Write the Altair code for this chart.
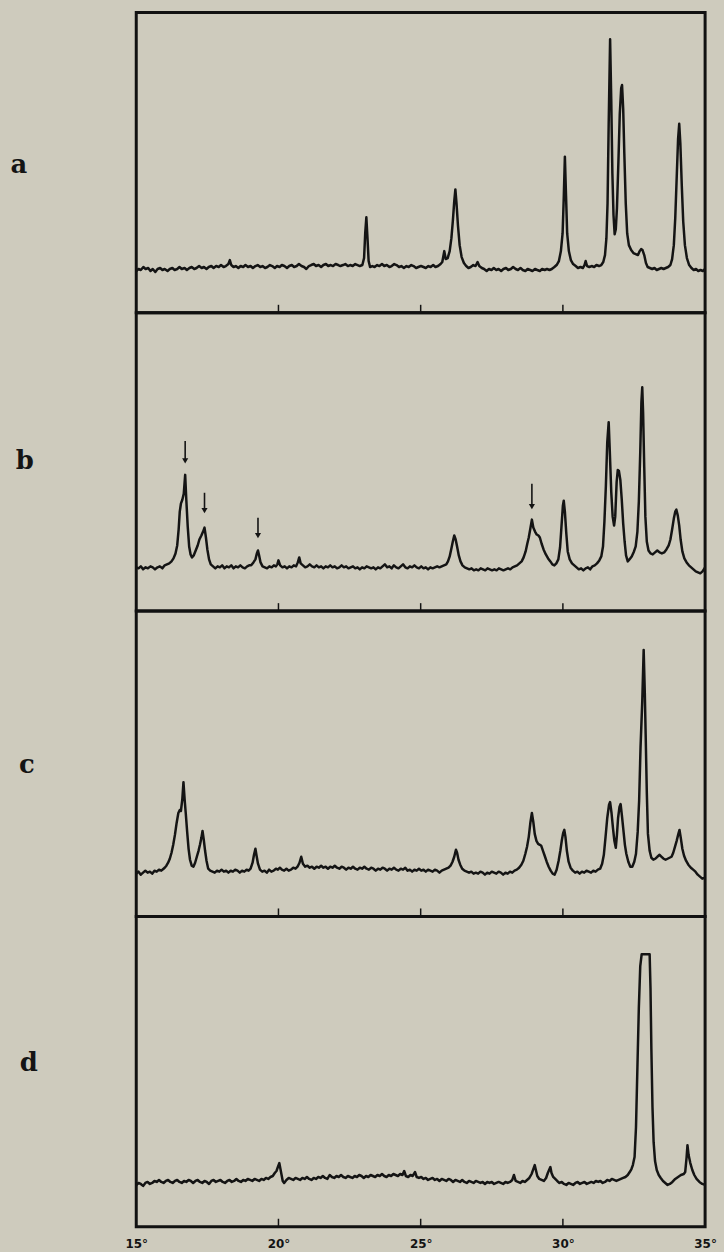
import altair as alt
import pandas as pd

# X-ray powder patterns, 2θ (degrees) vs. intensity (arbitrary units), four samples
PATTERN_A = [
    (15.00,42),(15.08,44),(15.16,43),(15.25,46),(15.33,44),(15.42,45),(15.50,42),(15.58,44),(15.67,41),(15.75,44),
    (15.84,45),(15.92,43),(16.00,44),(16.10,42),(16.18,44),(16.27,45),(16.35,43),(16.44,44),(16.52,46),(16.60,44),
    (16.70,45),(16.78,43),(16.87,45),(16.95,46),(17.04,44),(17.12,45),(17.21,47),(17.30,45),(17.38,46),(17.47,44),
    (17.55,46),(17.64,47),(17.72,45),(17.81,47),(17.90,46),(17.98,48),(18.07,46),(18.15,47),(18.24,49),(18.29,53),
    (18.34,48),(18.42,46),(18.50,47),(18.59,45),(18.67,47),(18.76,46),(18.84,48),(18.93,46),(19.02,47),(19.10,45),
    (19.19,47),(19.27,48),(19.36,46),(19.44,47),(19.53,45),(19.61,46),(19.70,48),(19.78,47),(19.87,45),(19.95,47),
    (20.04,46),(20.12,48),(20.21,47),(20.30,45),(20.38,47),(20.47,48),(20.55,46),(20.64,47),(20.72,49),(20.81,47),
    (20.90,46),(20.98,44),(21.07,47),(21.15,48),(21.24,49),(21.32,47),(21.41,48),(21.50,46),(21.58,48),(21.67,49),
    (21.75,47),(21.84,48),(21.92,47),(22.01,49),(22.10,48),(22.18,47),(22.27,48),(22.35,49),(22.44,47),(22.52,48),
    (22.61,47),(22.70,49),(22.78,48),(22.86,47),(22.95,48),(23.01,55),(23.05,80),(23.09,96),(23.13,75),(23.17,52),
    (23.22,46),(23.30,47),(23.38,46),(23.47,48),(23.55,47),(23.64,49),(23.72,47),(23.81,48),(23.90,46),(23.98,47),
    (24.07,49),(24.15,48),(24.24,46),(24.32,47),(24.41,45),(24.50,47),(24.58,46),(24.67,48),(24.75,47),(24.84,45),
    (24.92,46),(25.01,47),(25.10,46),(25.18,45),(25.27,47),(25.35,46),(25.44,48),(25.52,46),(25.61,47),(25.70,49),
    (25.76,51),(25.83,62),(25.88,54),(25.95,55),(26.02,62),(26.08,75),(26.13,92),(26.18,112),(26.22,124),(26.26,110),
    (26.31,88),(26.37,68),(26.44,56),(26.52,50),(26.60,47),(26.68,45),(26.76,46),(26.85,48),(26.93,47),(27.00,51),
    (27.06,47),(27.15,45),(27.23,44),(27.32,42),(27.40,44),(27.49,43),(27.57,45),(27.66,43),(27.74,44),(27.83,42),
    (27.91,44),(28.00,45),(28.08,43),(28.17,44),(28.25,46),(28.34,44),(28.42,43),(28.51,45),(28.59,43),(28.68,42),
    (28.76,44),(28.85,43),(28.93,42),(29.02,44),(29.10,43),(29.19,42),(29.27,44),(29.36,43),(29.44,44),(29.53,43),
    (29.61,44),(29.70,46),(29.78,48),(29.86,52),(29.93,62),(29.99,80),(30.03,115),(30.07,157),(30.11,118),(30.15,80),
    (30.21,62),(30.28,53),(30.36,49),(30.45,47),(30.53,45),(30.62,46),(30.70,45),(30.76,48),(30.80,52),(30.85,47),
    (30.93,46),(31.01,47),(31.10,46),(31.18,48),(31.27,47),(31.35,48),(31.42,51),(31.48,58),(31.53,75),(31.57,110),
    (31.61,190),(31.66,275),(31.70,215),(31.74,140),(31.78,98),(31.82,79),(31.86,84),(31.90,105),(31.95,150),(32.00,200),
    (32.05,226),(32.08,229),(32.12,205),(32.16,160),(32.21,110),(32.26,80),(32.32,68),(32.40,63),(32.48,60),(32.56,59),
    (32.64,58),(32.70,62),(32.75,64),(32.80,63),(32.86,58),(32.92,50),(32.98,46),(33.06,45),(33.14,44),(33.22,45),
    (33.30,43),(33.38,44),(33.46,45),(33.54,44),(33.62,45),(33.70,46),(33.78,48),(33.84,54),(33.90,68),(33.95,95),
    (34.00,135),(34.05,175),(34.09,190),(34.13,170),(34.18,128),(34.23,92),(34.29,68),(34.36,55),(34.44,48),(34.52,45),
    (34.60,43),(34.68,44),(34.76,42),(34.84,43),(34.92,42),(35.00,44),
]

PATTERN_B = [
    (15.00,44),(15.08,43),(15.16,45),(15.24,42),(15.33,44),(15.41,43),(15.50,45),(15.58,44),(15.66,42),(15.75,44),
    (15.83,45),(15.92,43),(16.00,46),(16.08,47),(16.16,48),(16.24,50),(16.31,53),(16.38,58),(16.44,66),(16.49,82),
    (16.53,100),(16.57,108),(16.62,112),(16.67,118),(16.72,137),(16.76,112),(16.81,85),(16.86,65),(16.91,57),(16.96,54),
    (17.02,56),(17.09,61),(17.16,66),(17.22,72),(17.29,76),(17.35,80),(17.40,84),(17.45,74),(17.50,62),(17.56,52),
    (17.62,47),(17.70,45),(17.78,43),(17.86,45),(17.94,44),(18.02,46),(18.10,43),(18.18,45),(18.26,44),(18.34,46),
    (18.42,43),(18.50,45),(18.58,44),(18.66,46),(18.74,44),(18.82,43),(18.90,45),(18.97,46),(19.04,46),(19.12,49),
    (19.19,52),(19.24,58),(19.28,61),(19.32,56),(19.37,49),(19.44,45),(19.52,44),(19.60,43),(19.68,45),(19.76,44),
    (19.84,46),(19.91,45),(19.96,47),(20.00,51),(20.06,46),(20.14,44),(20.22,45),(20.30,43),(20.38,45),(20.46,44),
    (20.54,46),(20.62,45),(20.68,49),(20.73,54),(20.78,48),(20.86,46),(20.94,44),(21.02,45),(21.10,47),(21.18,45),
    (21.26,44),(21.34,46),(21.42,44),(21.50,45),(21.58,43),(21.66,45),(21.74,44),(21.82,46),(21.90,44),(21.98,45),
    (22.06,43),(22.14,44),(22.22,46),(22.30,44),(22.38,45),(22.46,43),(22.54,44),(22.62,45),(22.70,43),(22.78,44),
    (22.86,42),(22.94,44),(23.02,43),(23.10,45),(23.18,44),(23.26,43),(23.34,44),(23.42,42),(23.50,44),(23.58,43),
    (23.66,45),(23.74,47),(23.82,44),(23.90,45),(23.98,43),(24.06,46),(24.14,44),(24.22,43),(24.30,45),(24.38,47),
    (24.46,44),(24.54,43),(24.62,45),(24.70,44),(24.78,46),(24.86,44),(24.94,43),(25.02,45),(25.10,43),(25.18,44),
    (25.26,42),(25.34,44),(25.42,43),(25.50,44),(25.58,45),(25.66,44),(25.74,45),(25.82,46),(25.90,47),(25.96,50),
    (26.02,55),(26.08,63),(26.13,70),(26.18,76),(26.23,72),(26.28,65),(26.34,56),(26.40,50),(26.47,46),(26.55,44),
    (26.63,43),(26.71,42),(26.79,43),(26.87,41),(26.95,42),(27.03,41),(27.11,43),(27.19,42),(27.27,41),(27.35,43),
    (27.43,42),(27.51,41),(27.59,42),(27.67,41),(27.75,43),(27.83,42),(27.91,41),(27.99,42),(28.07,43),(28.15,42),
    (28.23,44),(28.31,45),(28.39,46),(28.47,48),(28.55,50),(28.62,54),(28.69,60),(28.75,68),(28.80,74),(28.85,82),
    (28.91,92),(28.96,84),(29.02,80),(29.08,77),(29.14,76),(29.19,74),(29.25,68),(29.32,62),(29.40,57),(29.48,53),
    (29.56,50),(29.63,47),(29.70,46),(29.77,48),(29.84,52),(29.90,64),(29.95,85),(30.00,106),(30.03,111),(30.07,100),
    (30.12,78),(30.17,60),(30.24,52),(30.32,48),(30.40,46),(30.48,44),(30.56,42),(30.64,43),(30.72,41),(30.80,43),
    (30.88,44),(30.96,42),(31.04,45),(31.12,46),(31.20,48),(31.28,51),(31.35,55),(31.41,65),(31.46,90),(31.51,125),
    (31.56,170),(31.61,190),(31.65,160),(31.70,120),(31.75,95),(31.80,86),(31.84,95),(31.89,130),(31.93,142),(31.97,141),
    (32.02,132),(32.07,112),(32.12,88),(32.17,70),(32.22,56),(32.28,50),(32.34,52),(32.42,55),(32.50,60),(32.56,65),
    (32.62,80),(32.67,110),(32.72,160),(32.76,210),(32.79,225),(32.82,200),(32.86,145),(32.90,95),(32.95,70),(33.01,61),
    (33.08,58),(33.16,57),(33.24,59),(33.32,61),(33.40,59),(33.48,58),(33.56,59),(33.64,62),(33.72,66),(33.78,72),
    (33.84,82),(33.90,93),(33.95,100),(33.99,102),(34.04,96),(34.09,86),(34.14,72),(34.20,60),(34.27,53),(34.35,49),
    (34.43,46),(34.51,44),(34.59,42),(34.67,40),(34.75,39),(34.83,38),(34.91,40),(35.00,44),
]

PATTERN_C = [
    (15.00,43),(15.08,45),(15.16,42),(15.24,44),(15.32,46),(15.40,44),(15.48,45),(15.56,43),(15.64,46),(15.72,45),
    (15.80,47),(15.88,46),(15.96,48),(16.00,49),(16.06,51),(16.12,54),(16.18,58),(16.24,64),(16.30,72),(16.36,82),
    (16.42,94),(16.48,104),(16.53,107),(16.57,106),(16.62,118),(16.66,135),(16.70,118),(16.74,104),(16.79,85),(16.84,68),
    (16.89,57),(16.95,51),(17.01,50),(17.07,54),(17.13,60),(17.19,66),(17.24,72),(17.29,79),(17.33,86),(17.37,78),
    (17.42,66),(17.47,56),(17.53,48),(17.60,46),(17.68,45),(17.76,44),(17.84,46),(17.92,45),(18.00,47),(18.08,45),
    (18.16,46),(18.24,44),(18.32,46),(18.40,45),(18.48,47),(18.56,46),(18.64,44),(18.72,46),(18.80,45),(18.88,47),
    (18.95,46),(19.02,48),(19.09,54),(19.14,62),(19.19,68),(19.23,61),(19.28,53),(19.35,47),(19.43,45),(19.51,46),
    (19.59,44),(19.67,47),(19.75,45),(19.83,46),(19.91,48),(19.98,47),(20.05,49),(20.12,47),(20.20,46),(20.28,48),
    (20.36,46),(20.44,47),(20.52,49),(20.60,48),(20.67,50),(20.74,54),(20.80,60),(20.86,53),(20.94,50),(21.02,51),
    (21.10,49),(21.18,50),(21.26,48),(21.34,50),(21.42,49),(21.50,51),(21.58,49),(21.66,50),(21.74,48),(21.82,50),
    (21.90,49),(21.98,51),(22.06,49),(22.14,48),(22.22,50),(22.30,49),(22.38,47),(22.46,49),(22.54,48),(22.62,50),
    (22.70,48),(22.78,47),(22.86,49),(22.94,48),(23.02,50),(23.10,48),(23.18,47),(23.26,49),(23.34,48),(23.42,46),
    (23.50,48),(23.58,47),(23.66,49),(23.74,48),(23.82,46),(23.90,48),(23.98,47),(24.06,49),(24.14,47),(24.22,46),
    (24.30,48),(24.38,47),(24.46,49),(24.54,46),(24.62,47),(24.70,45),(24.78,47),(24.86,46),(24.94,48),(25.02,46),
    (25.10,47),(25.18,45),(25.26,47),(25.34,46),(25.42,45),(25.50,47),(25.58,46),(25.66,44),(25.74,46),(25.82,47),
    (25.90,48),(25.98,49),(26.05,51),(26.12,55),(26.18,60),(26.24,67),(26.28,64),(26.33,57),(26.39,52),(26.46,48),
    (26.54,46),(26.62,45),(26.70,44),(26.78,45),(26.86,43),(26.94,44),(27.02,43),(27.10,45),(27.18,44),(27.26,42),
    (27.34,44),(27.42,43),(27.50,45),(27.58,44),(27.66,43),(27.74,45),(27.82,44),(27.90,42),(27.98,44),(28.06,43),
    (28.14,45),(28.22,44),(28.30,46),(28.38,47),(28.46,49),(28.54,52),(28.61,56),(28.68,63),(28.74,70),(28.80,80),
    (28.86,95),(28.91,104),(28.96,95),(29.01,83),(29.07,76),(29.13,73),(29.19,72),(29.24,71),(29.30,66),(29.36,61),
    (29.43,55),(29.50,50),(29.57,46),(29.64,43),(29.71,42),(29.78,47),(29.85,56),(29.91,66),(29.96,76),(30.01,84),
    (30.05,87),(30.09,80),(30.14,66),(30.20,55),(30.27,49),(30.35,46),(30.43,44),(30.51,45),(30.59,43),(30.67,45),
    (30.75,44),(30.83,46),(30.91,45),(30.99,44),(31.07,46),(31.15,45),(31.23,47),(31.31,48),(31.38,53),(31.44,62),
    (31.50,80),(31.56,99),(31.62,112),(31.66,115),(31.71,104),(31.76,89),(31.81,76),(31.86,69),(31.90,82),(31.94,99),
    (31.99,110),(32.03,113),(32.08,100),(32.13,86),(32.18,72),(32.23,63),(32.30,55),(32.37,50),(32.44,50),(32.51,55),
    (32.57,63),(32.63,85),(32.68,116),(32.73,170),(32.79,216),(32.84,268),(32.88,225),(32.91,183),(32.95,125),(32.99,83),
    (33.05,66),(33.11,59),(33.18,57),(33.25,58),(33.32,60),(33.40,62),(33.47,60),(33.54,58),(33.61,57),(33.68,58),
    (33.75,59),(33.82,60),(33.88,64),(33.94,70),(34.00,76),(34.06,83),(34.10,87),(34.15,78),(34.20,68),(34.26,61),
    (34.33,56),(34.41,52),(34.50,49),(34.58,47),(34.66,45),(34.74,42),(34.82,40),(34.90,38),(35.00,39),
]

PATTERN_D = [
    (15.00,42),(15.08,44),(15.16,43),(15.24,41),(15.32,44),(15.40,45),(15.48,43),(15.56,44),(15.64,46),(15.72,45),
    (15.80,47),(15.88,45),(15.96,44),(16.04,46),(16.12,47),(16.20,45),(16.28,44),(16.36,46),(16.44,47),(16.52,45),
    (16.60,44),(16.68,46),(16.76,45),(16.84,47),(16.92,46),(17.00,44),(17.08,46),(17.16,47),(17.24,45),(17.32,44),
    (17.40,46),(17.48,45),(17.56,43),(17.64,46),(17.72,47),(17.80,45),(17.88,46),(17.96,47),(18.04,45),(18.12,44),
    (18.20,46),(18.28,47),(18.36,45),(18.44,46),(18.52,48),(18.60,46),(18.68,45),(18.76,47),(18.84,46),(18.92,48),
    (19.00,47),(19.08,46),(19.16,48),(19.24,47),(19.32,46),(19.40,48),(19.48,47),(19.56,49),(19.64,48),(19.72,50),
    (19.80,51),(19.87,54),(19.93,56),(19.98,60),(20.03,64),(20.07,58),(20.11,52),(20.15,46),(20.20,44),(20.28,47),
    (20.36,49),(20.44,48),(20.52,47),(20.60,49),(20.68,48),(20.76,47),(20.84,49),(20.92,48),(21.00,50),(21.08,48),
    (21.16,47),(21.24,49),(21.32,48),(21.40,50),(21.48,49),(21.56,51),(21.64,49),(21.72,48),(21.80,52),(21.88,50),
    (21.96,49),(22.04,51),(22.12,50),(22.20,52),(22.28,50),(22.36,49),(22.44,51),(22.52,50),(22.60,49),(22.68,51),
    (22.76,50),(22.84,52),(22.92,51),(23.00,49),(23.08,51),(23.16,50),(23.24,52),(23.32,51),(23.40,50),(23.48,52),
    (23.56,51),(23.64,53),(23.72,51),(23.80,50),(23.88,52),(23.96,51),(24.04,53),(24.12,52),(24.20,51),(24.28,53),
    (24.36,52),(24.42,56),(24.48,51),(24.56,50),(24.64,52),(24.72,51),(24.80,55),(24.86,50),(24.94,49),(25.02,50),
    (25.10,48),(25.18,49),(25.26,47),(25.34,48),(25.42,49),(25.50,47),(25.58,48),(25.66,46),(25.74,48),(25.82,47),
    (25.90,46),(25.98,48),(26.06,47),(26.14,45),(26.22,47),(26.30,46),(26.38,45),(26.46,47),(26.54,45),(26.62,44),
    (26.70,46),(26.78,45),(26.86,44),(26.94,46),(27.02,45),(27.10,44),(27.18,45),(27.26,43),(27.34,45),(27.42,44),
    (27.50,45),(27.58,43),(27.66,44),(27.74,45),(27.82,44),(27.90,43),(27.98,45),(28.06,44),(28.14,45),(28.22,47),
    (28.28,52),(28.34,46),(28.42,45),(28.50,44),(28.58,46),(28.66,45),(28.74,47),(28.82,49),(28.90,53),(28.96,58),
    (29.01,62),(29.05,57),(29.10,51),(29.17,48),(29.25,47),(29.33,46),(29.41,49),(29.47,54),(29.53,58),(29.56,60),
    (29.60,54),(29.66,50),(29.73,48),(29.80,46),(29.88,44),(29.96,45),(30.04,43),(30.12,42),(30.20,44),(30.28,43),
    (30.36,42),(30.44,44),(30.52,45),(30.60,43),(30.68,44),(30.76,45),(30.84,43),(30.92,44),(31.00,45),(31.08,44),
    (31.16,46),(31.24,45),(31.32,46),(31.40,44),(31.48,45),(31.56,47),(31.64,46),(31.72,48),(31.80,47),(31.88,46),
    (31.96,47),(32.04,48),(32.12,49),(32.20,50),(32.28,52),(32.35,55),(32.41,58),(32.46,62),(32.52,70),(32.57,100),
    (32.62,160),(32.67,220),(32.72,262),(32.77,274),(32.85,274),(32.95,274),(33.05,274),(33.08,240),(33.11,180),(33.15,120),
    (33.19,85),(33.24,66),(33.30,57),(33.37,52),(33.44,49),(33.52,46),(33.60,44),(33.68,42),(33.76,43),(33.85,45),
    (33.95,48),(34.05,50),(34.15,52),(34.25,53),(34.30,55),(34.35,70),(34.38,82),(34.42,72),(34.48,64),(34.55,57),
    (34.62,52),(34.70,48),(34.80,45),(34.90,43),(35.00,42),
]

# Arrows marking the extra reflections in pattern b: position, arrow top, arrow tip
ARROW_X = [16.72, 17.40, 19.28, 28.91]
ARROW_TOP = [171, 119, 94, 128]
ARROW_TIP = [148, 98, 73, 102]

PANEL_LABELS = ["a", "b", "c", "d"]
PANEL_HEIGHTS = [302, 300, 307, 312]
LABEL_X = [-118, -112, -110, -108]
LABEL_Y = [153, 149, 155, 147]
AXIS_VALUES = [15, 20, 25, 30, 35]
INNER_TICKS = [20, 25, 30]

INK = "#141414"
PAPER = "#cecbbd"
PLOT_W = 572


def panel(points, label, height, label_x, label_y, show_axis, arrows=None):
    df = pd.DataFrame(points, columns=["two_theta", "intensity"])
    if show_axis:
        axis = alt.Axis(
            values=AXIS_VALUES, labelExpr="datum.value + '°'", ticks=False, domain=False,
            grid=False, title=None, labelFont="DejaVu Sans", labelFontSize=12,
            labelFontWeight="bold", labelColor=INK, labelPadding=12,
            labelAlign="center", labelFlush=False,
        )
    else:
        axis = None
    x_enc = alt.X("two_theta:Q", scale=alt.Scale(domain=[15, 35], nice=False, zero=False), axis=axis)
    y_enc = alt.Y("intensity:Q", scale=alt.Scale(domain=[0, height], nice=False, zero=True), axis=None)

    trace = alt.Chart(df).mark_line(color=INK, strokeWidth=2.5, strokeJoin="round").encode(x=x_enc, y=y_enc)

    tick_df = pd.DataFrame({"two_theta": INNER_TICKS})
    ticks = alt.Chart(tick_df).mark_rule(color=INK, strokeWidth=1.5).encode(
        x=x_enc, y=alt.value(height), y2=alt.value(height - 8)
    )

    label_df = pd.DataFrame({"name": [label]})
    text = alt.Chart(label_df).mark_text(
        font="DejaVu Serif", fontSize=26, fontWeight="bold", color=INK, align="center", baseline="middle"
    ).encode(x=alt.value(label_x), y=alt.value(label_y), text="name:N")

    layers = [trace, ticks, text]
    if arrows is not None:
        adf = pd.DataFrame({"two_theta": arrows[0], "intensity": arrows[1], "tip": arrows[2]})
        adf["shaft_end"] = adf["tip"] + 5
        adf["head"] = adf["tip"] + 3
        shafts = alt.Chart(adf).mark_rule(color=INK, strokeWidth=1.6).encode(
            x=x_enc, y=y_enc, y2="shaft_end:Q"
        )
        heads = alt.Chart(adf).mark_point(
            shape="triangle-down", filled=True, color=INK, size=38, opacity=1
        ).encode(x=x_enc, y=alt.Y("head:Q"))
        layers += [shafts, heads]

    return alt.layer(*layers).properties(width=PLOT_W, height=height)


panels = []
patterns = [PATTERN_A, PATTERN_B, PATTERN_C, PATTERN_D]
for i, pts in enumerate(patterns):
    panels.append(
        panel(
            pts, PANEL_LABELS[i], PANEL_HEIGHTS[i], LABEL_X[i], LABEL_Y[i],
            show_axis=(i == 3),
            arrows=(ARROW_X, ARROW_TOP, ARROW_TIP) if i == 1 else None,
        )
    )

chart = (
    alt.vconcat(*panels, spacing=0, bounds="flush")
    .properties(padding={"left": 9, "top": 7, "right": 6, "bottom": 8})
    .configure(background=PAPER)
    .configure_view(stroke="#111111", strokeWidth=3)
)

chart.save("out.html", embed_options={"renderer": "svg", "actions": False})
